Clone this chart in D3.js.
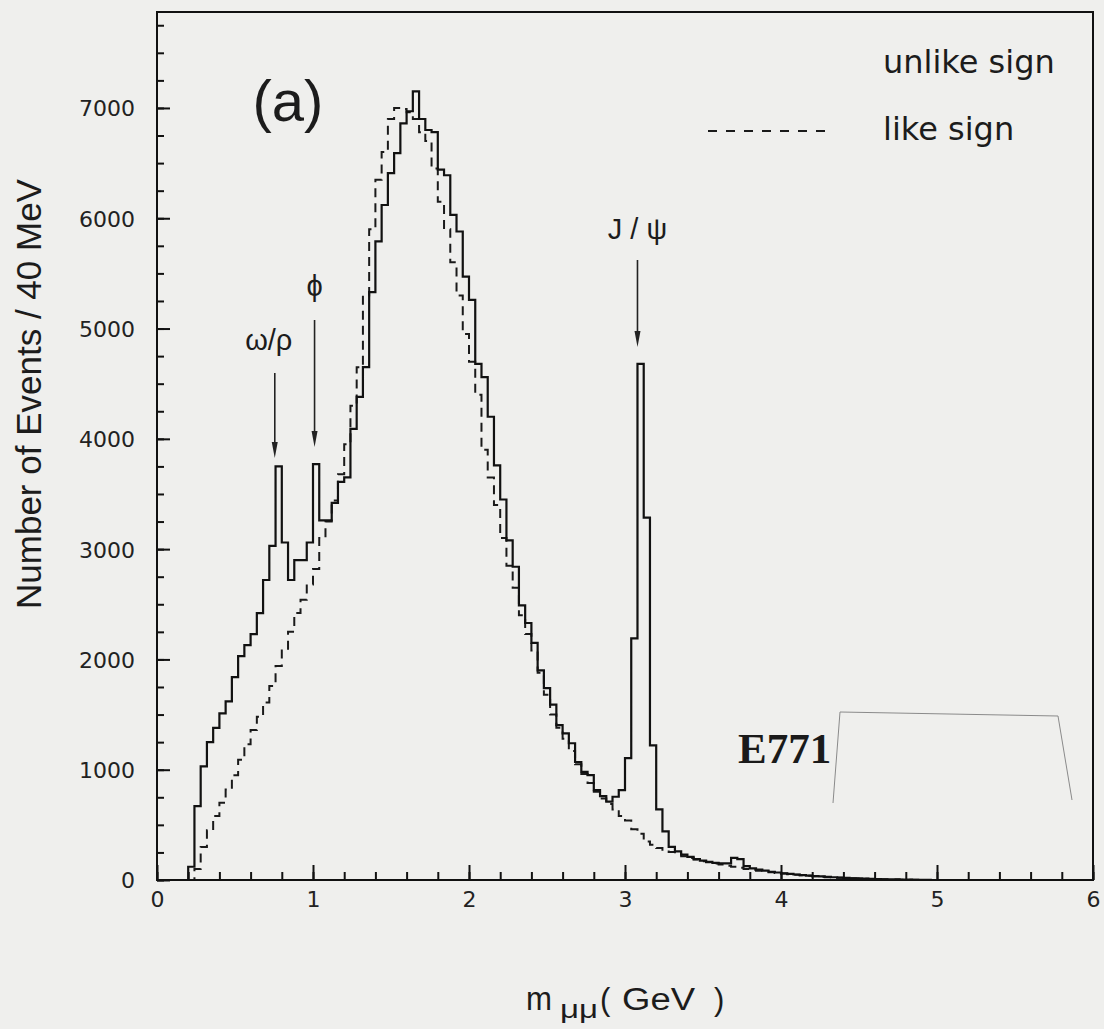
<!DOCTYPE html>
<html>
<head>
<meta charset="utf-8">
<title>E771 dimuon mass spectrum</title>
<script src="https://d3js.org/d3.v7.min.js"></script>
<style>
    body { margin: 0; background: #efefed; }
    .tick text { font-family: "DejaVu Sans", sans-serif; font-size: 22px; fill: #222; }
    .tick line { stroke: #111; stroke-width: 2; }
    .label { font-family: "Liberation Sans", Arial, sans-serif; fill: #1c1c1c; }
</style>
</head>
<body>
<div id="chart"></div>
<script>
// histogram: 40 MeV bins, first bin starts at 0.20 GeV
const binStart = 0.20, binWidth = 0.04;

// unlike sign (solid), events per bin
const unlikeSign = [
    120, 670, 1030, 1250, 1380, 1510, 1620, 1840, 2030, 2130,
    2230, 2420, 2720, 3030, 3750, 3060, 2720, 2900, 2900, 3060,
    3770, 3260, 3260, 3420, 3610, 3650, 4090, 4380, 4650, 5330,
    5790, 6120, 6410, 6590, 6860, 6970, 7150, 6900, 6800, 6780,
    6440, 6390, 6030, 5880, 5470, 5260, 4680, 4560, 4200, 3760,
    3450, 3080, 2840, 2490, 2330, 2150, 1900, 1740, 1590, 1405,
    1330, 1240, 1070, 980, 950, 815, 760, 710, 755, 815,
    1105, 2190, 4680, 3285, 1220, 640, 440, 300, 260, 230,
    210, 190, 175, 165, 155, 150, 150, 200, 190, 125,
    105, 95, 85, 75, 68, 60, 55, 50, 45, 40,
    36, 32, 28, 25, 22, 19, 16, 14, 12, 10,
    8, 7, 6, 5, 4, 3, 2, 2, 1, 0
];

// like sign (dashed), events per bin
const likeSign = [
    0, 100, 300, 450, 580, 700, 820, 950, 1090, 1230,
    1360, 1480, 1610, 1760, 1940, 2080, 2250, 2420, 2540, 2680,
    2820, 3100, 3250, 3440, 3680, 3950, 4300, 4650, 5300, 5900,
    6350, 6600, 6900, 7000, 6990, 6960, 6900, 6780, 6700, 6450,
    6150, 5900, 5600, 5300, 4950, 4700, 4400, 3900, 3650, 3400,
    3100, 2850, 2650, 2400, 2230, 2080, 1880, 1680, 1500, 1380,
    1280, 1170, 1050, 960, 880, 800, 740, 690, 640, 580,
    540, 460, 420, 350, 320, 290, 275, 255, 235, 215,
    200, 185, 170, 160, 150, 140, 130, 120, 110, 100,
    92, 85, 78, 70, 64, 58, 52, 47, 42, 38,
    34, 30, 26, 23, 20, 17, 15, 13, 11, 9,
    7, 6, 5, 4, 3, 2, 2, 1, 1, 0
];

const xMajor = [0, 1, 2, 3, 4, 5, 6];
const xMinor = d3.range(0, 6.001, 0.2);
const yMajor = [0, 1000, 2000, 3000, 4000, 5000, 6000, 7000];
const yMinor = d3.range(0, 7751, 250);

// peak annotations: label, mass, label baseline, arrow start, arrow tip (pixels)
const peaks = [
    {label: "ω/ρ", m: 0.755, ly: 350, from: 373, to: 458},
    {label: "ϕ",   m: 1.01,  ly: 296, from: 320, to: 447},
    {label: "J / ψ", m: 3.08, ly: 239, from: 260, to: 347}
];

const W = 1104, H = 1029;
const margin = {top: 12, right: 11, bottom: 149, left: 157};

const svg = d3.select("#chart").append("svg")
    .attr("width", W)
    .attr("height", H);

const x = d3.scaleLinear().domain([0, 6]).range([margin.left, W - margin.right]);
const y = d3.scaleLinear().domain([0, 7870]).range([H - margin.bottom, margin.top]);

svg.append("defs").append("clipPath").attr("id", "plot")
  .append("rect")
    .attr("x", x(0)).attr("y", y(7870))
    .attr("width", x(6) - x(0)).attr("height", y(0) - y(7870));

// step lines
function steps(values) {
    const pts = [[binStart, 0]];
    values.forEach((v, i) => pts.push([binStart + i * binWidth, v]));
    pts.push([binStart + values.length * binWidth, 0]);
    return d3.line()
        .x(d => x(d[0]))
        .y(d => y(d[1]))
        .curve(d3.curveStepAfter)(pts);
}

const g = svg.append("g").attr("clip-path", "url(#plot)");

g.append("path")
    .attr("d", steps(likeSign))
    .attr("fill", "none")
    .attr("stroke", "#1a1a1a")
    .attr("stroke-width", 2)
    .attr("stroke-dasharray", "9,6");

g.append("path")
    .attr("d", steps(unlikeSign))
    .attr("fill", "none")
    .attr("stroke", "#111")
    .attr("stroke-width", 2.2);

// axes, ticks pointing into the frame
const xAxis = svg.append("g")
    .attr("transform", `translate(0,${y(0)})`)
    .call(d3.axisBottom(x).tickValues(xMinor).tickSize(-8).tickFormat(""));
xAxis.select(".domain").remove();

const xAxisMajor = svg.append("g")
    .attr("transform", `translate(0,${y(0)})`)
    .call(d3.axisBottom(x).tickValues(xMajor).tickSize(-15).tickFormat(d3.format("d")));
xAxisMajor.select(".domain").remove();
xAxisMajor.selectAll("text").attr("y", 27).attr("dy", 0);

const yAxis = svg.append("g")
    .attr("transform", `translate(${x(0)},0)`)
    .call(d3.axisLeft(y).tickValues(yMinor).tickSize(-7).tickFormat(""));
yAxis.select(".domain").remove();

const yAxisMajor = svg.append("g")
    .attr("transform", `translate(${x(0)},0)`)
    .call(d3.axisLeft(y).tickValues(yMajor).tickSize(-13).tickPadding(22).tickFormat(d3.format("d")));
yAxisMajor.select(".domain").remove();
yAxisMajor.selectAll("text").attr("dy", "0.36em");

// frame
svg.append("rect")
    .attr("x", x(0)).attr("y", y(7870))
    .attr("width", x(6) - x(0)).attr("height", y(0) - y(7870))
    .attr("fill", "none")
    .attr("stroke", "#111")
    .attr("stroke-width", 2);

// axis titles
svg.append("text")
    .attr("class", "label")
    .attr("transform", "translate(41,394) rotate(-90)")
    .attr("text-anchor", "middle")
    .style("font-size", "35px")
    .text("Number of Events / 40 MeV");

// m_μμ ( GeV ), pieces placed as in the scan
const xTitle = [
    {t: "m",   x: 526, y: 1010, size: 33, len: 26},
    {t: "μμ",  x: 560, y: 1018, size: 25, len: 38},
    {t: "(",   x: 600, y: 1010, size: 31, len: null},
    {t: "GeV", x: 622, y: 1010, size: 31, len: 73},
    {t: ")",   x: 714, y: 1010, size: 31, len: null}
];
xTitle.forEach(p => {
    const t = svg.append("text")
        .attr("class", "label")
        .attr("x", p.x).attr("y", p.y)
        .style("font-size", p.size + "px")
        .text(p.t);
    if (p.len) t.attr("textLength", p.len).attr("lengthAdjust", "spacingAndGlyphs");
});

// panel letter
svg.append("text")
    .attr("class", "label")
    .attr("x", 288).attr("y", 121)
    .attr("text-anchor", "middle")
    .style("font-size", "58px")
    .text("(a)");

// legend
svg.append("text")
    .attr("x", 883).attr("y", 73)
    .style("font-family", "DejaVu Sans, sans-serif")
    .style("font-size", "32px")
    .attr("fill", "#1c1c1c")
    .text("unlike sign");

svg.append("line")
    .attr("x1", 708).attr("x2", 832)
    .attr("y1", 131).attr("y2", 131)
    .attr("stroke", "#1a1a1a")
    .attr("stroke-width", 2)
    .attr("stroke-dasharray", "9,9");

svg.append("text")
    .attr("x", 883).attr("y", 140)
    .style("font-family", "DejaVu Sans, sans-serif")
    .style("font-size", "32px")
    .attr("fill", "#1c1c1c")
    .text("like sign");

// peak labels and arrows
peaks.forEach(p => {
    const px = x(p.m);
    svg.append("text")
        .attr("class", "label")
        .attr("x", px - (p.label === "ω/ρ" ? 6 : 0))
        .attr("y", p.ly)
        .attr("text-anchor", "middle")
        .style("font-size", "29px")
        .text(p.label);
    svg.append("line")
        .attr("x1", px).attr("x2", px)
        .attr("y1", p.from).attr("y2", p.to - 12)
        .attr("stroke", "#222")
        .attr("stroke-width", 1.6);
    svg.append("path")
        .attr("d", `M${px - 3},${p.to - 16}L${px + 3},${p.to - 16}L${px},${p.to}Z`)
        .attr("fill", "#222");
});

// E771 stamp and its faint box
svg.append("text")
    .attr("x", 738).attr("y", 763)
    .style("font-family", "Liberation Serif, serif")
    .style("font-weight", "bold")
    .style("font-size", "43px")
    .attr("fill", "#1a1a1a")
    .text("E771");

svg.append("path")
    .attr("d", "M833,803L840,712L1058,716L1072,800")
    .attr("fill", "none")
    .attr("stroke", "#8a8a8a")
    .attr("stroke-width", 1);
</script>
</body>
</html>
